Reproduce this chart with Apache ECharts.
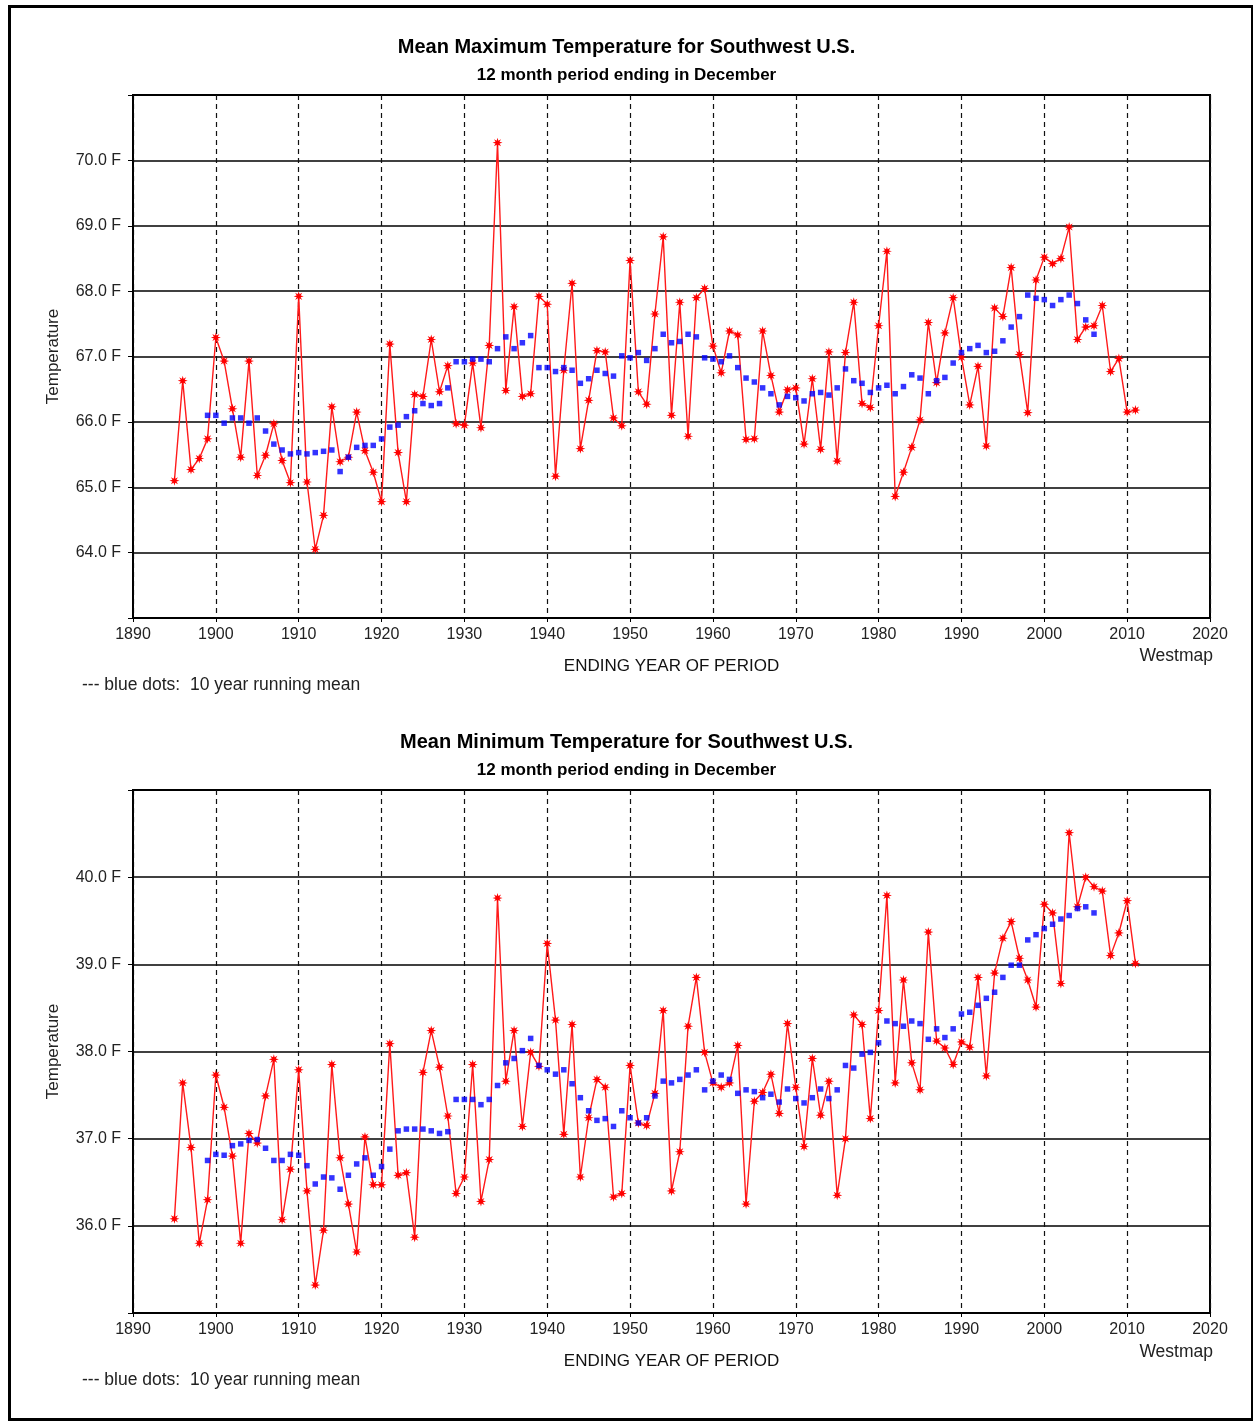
<!DOCTYPE html>
<html>
<head>
<meta charset="utf-8">
<script src="https://cdn.jsdelivr.net/npm/echarts@6/dist/echarts.min.js"></script>
<style>
  html, body { margin: 0; padding: 0; background: #fff; }
  #chart { width: 1253px; height: 1421px; }
</style>
</head>
<body>
<div id="chart"></div>
<script>
// red series start in 1895, running mean starts in 1899
const redStart = 1895;
const meanStart = 1899;

// mean maximum temperature, 1895-2011
const maxTemp = [
  65.10, 66.63, 65.27, 65.44, 65.74,
  67.29, 66.93, 66.20, 65.46, 66.93, 65.18, 65.49, 65.97, 65.41, 65.07,
  67.92, 65.08, 64.05, 64.57, 66.23, 65.39, 65.46, 66.15, 65.56, 65.23,
  64.78, 67.19, 65.53, 64.78, 66.42, 66.39, 67.26, 66.46, 66.86, 65.97,
  65.95, 66.90, 65.91, 67.17, 70.27, 66.48, 67.76, 66.39, 66.43, 67.92,
  67.80, 65.17, 66.79, 68.12, 65.59, 66.33, 67.09, 67.07, 66.06, 65.94,
  68.47, 66.46, 66.27, 67.65, 68.83, 66.10, 67.83, 65.78, 67.90, 68.04,
  67.16, 66.75, 67.39, 67.33, 65.73, 65.74, 67.39, 66.71, 66.15, 66.49,
  66.52, 65.66, 66.66, 65.58, 67.07, 65.40, 67.06, 67.83, 66.28, 66.22,
  67.47, 68.61, 64.86, 65.23, 65.61, 66.03, 67.52, 66.60, 67.36, 67.90,
  66.99, 66.26, 66.85, 65.63, 67.74, 67.61, 68.36, 67.03, 66.14, 68.17,
  68.52, 68.42, 68.50, 68.98, 67.26, 67.45, 67.47, 67.78, 66.77, 66.97,
  66.15, 66.18
];

// 10 year running mean of max, 1899-2006
const maxMean = [
  66.10,
  66.10, 65.98, 66.06, 66.06, 65.98, 66.06, 65.86, 65.66, 65.57, 65.51,
  65.53, 65.51, 65.53, 65.55, 65.57, 65.24, 65.46, 65.61, 65.64, 65.64,
  65.74, 65.92, 65.95, 66.08, 66.17, 66.28, 66.25, 66.28, 66.52, 66.92,
  66.92, 66.96, 66.96, 66.92, 67.12, 67.30, 67.12, 67.21, 67.32, 66.83,
  66.83, 66.77, 66.83, 66.79, 66.59, 66.66, 66.79, 66.74, 66.70, 67.01,
  66.98, 67.06, 66.94, 67.12, 67.34, 67.21, 67.23, 67.34, 67.30, 66.98,
  66.96, 66.92, 67.01, 66.83, 66.67, 66.61, 66.52, 66.43, 66.26, 66.39,
  66.37, 66.32, 66.43, 66.45, 66.41, 66.52, 66.81, 66.63, 66.59, 66.45,
  66.52, 66.56, 66.43, 66.54, 66.72, 66.67, 66.43, 66.63, 66.68, 66.90,
  67.06, 67.12, 67.17, 67.06, 67.08, 67.24, 67.45, 67.61, 67.94, 67.89,
  67.87, 67.78, 67.87, 67.94, 67.81, 67.56, 67.34
];

// mean minimum temperature, 1895-2011
const minTemp = [
  36.08, 37.64, 36.90, 35.80, 36.30,
  37.73, 37.36, 36.80, 35.80, 37.06, 36.95, 37.49, 37.91, 36.07, 36.65,
  37.79, 36.40, 35.32, 35.95, 37.85, 36.78, 36.25, 35.70, 37.02, 36.47,
  36.47, 38.09, 36.58, 36.61, 35.87, 37.76, 38.24, 37.82, 37.26, 36.37,
  36.56, 37.85, 36.28, 36.76, 39.76, 37.66, 38.24, 37.14, 37.99, 37.83,
  39.24, 38.36, 37.05, 38.31, 36.56, 37.24, 37.68, 37.59, 36.33, 36.37,
  37.84, 37.18, 37.15, 37.52, 38.47, 36.40, 36.85, 38.29, 38.85, 37.99,
  37.64, 37.59, 37.64, 38.07, 36.25, 37.43, 37.53, 37.74, 37.29, 38.32,
  37.59, 36.91, 37.92, 37.27, 37.66, 36.35, 37.00, 38.42, 38.31, 37.23,
  38.47, 39.79, 37.64, 38.82, 37.87, 37.56, 39.37, 38.12, 38.04, 37.85,
  38.11, 38.05, 38.85, 37.72, 38.90, 39.30, 39.49, 39.07, 38.82, 38.51,
  39.69, 39.59, 38.78, 40.51, 39.66, 40.00, 39.89, 39.84, 39.10, 39.36,
  39.73, 39.01
];

// 10 year running mean of min, 1899-2006
const minMean = [
  36.75,
  36.82, 36.81, 36.92, 36.94, 36.98, 36.99, 36.89, 36.75, 36.75, 36.82,
  36.81, 36.69, 36.48, 36.56, 36.55, 36.42, 36.58, 36.71, 36.78, 36.58,
  36.68, 36.88, 37.09, 37.11, 37.11, 37.11, 37.09, 37.06, 37.08, 37.45,
  37.45, 37.45, 37.39, 37.45, 37.61, 37.87, 37.92, 38.01, 38.15, 37.84,
  37.79, 37.74, 37.79, 37.63, 37.47, 37.32, 37.21, 37.23, 37.14, 37.32,
  37.24, 37.18, 37.24, 37.49, 37.66, 37.64, 37.68, 37.73, 37.79, 37.56,
  37.66, 37.73, 37.68, 37.52, 37.56, 37.54, 37.47, 37.51, 37.42, 37.57,
  37.46, 37.41, 37.47, 37.57, 37.46, 37.56, 37.84, 37.81, 37.97, 37.99,
  38.10, 38.35, 38.32, 38.29, 38.35, 38.32, 38.14, 38.26, 38.16, 38.26,
  38.43, 38.45, 38.53, 38.61, 38.68, 38.85, 38.99, 38.99, 39.28, 39.34,
  39.41, 39.46, 39.52, 39.56, 39.64, 39.66, 39.59
];

const titles = ['Mean Maximum Temperature for Southwest U.S.', 'Mean Minimum Temperature for Southwest U.S.'];
const subtitle = '12 month period ending in December';

const font = 'Liberation Sans, Arial, sans-serif';
// 8 point asterisk
const star = 'path://M10 0 L11.7 6 L17.07 2.93 L14 8.3 L20 10 L14 11.7 L17.07 17.07 L11.7 14 L10 20 L8.3 14 L2.93 17.07 L6 11.7 L0 10 L6 8.3 L2.93 2.93 L8.3 6 Z';

const pairs = (arr, start) => arr.map((v, i) => [start + i, v]);

const panelTop = [95, 790];
const plotH = 523;

function xAxis(gi) {
  return {
    type: 'value', gridIndex: gi, min: 1890, max: 2020, interval: 10,
    name: 'ENDING YEAR OF PERIOD', nameLocation: 'middle', nameGap: 40,
    nameTextStyle: { fontFamily: font, fontSize: 17, color: '#111' },
    axisLine: { show: true, lineStyle: { color: '#000', width: 1.5 } },
    axisTick: { show: true, length: 4, lineStyle: { color: '#000' } },
    axisLabel: { fontFamily: font, fontSize: 16, color: '#222', margin: 9, formatter: v => String(v) },
    splitLine: { show: true, lineStyle: { color: '#111', type: [5, 4], width: 1.2 } }
  };
}

function yAxis(gi, lo, hi) {
  return {
    type: 'value', gridIndex: gi, min: lo, max: hi, interval: 1,
    name: 'Temperature', nameLocation: 'middle', nameGap: 71, nameRotate: 90,
    nameTextStyle: { fontFamily: font, fontSize: 17, color: '#222' },
    axisLine: { show: true, lineStyle: { color: '#000', width: 1.5 } },
    axisTick: { show: true, length: 5, lineStyle: { color: '#000' } },
    axisLabel: {
      fontFamily: font, fontSize: 16, color: '#222', margin: 12,
      formatter: v => (v === lo || v === hi) ? '' : v.toFixed(1) + ' F'
    },
    splitLine: { show: true, lineStyle: { color: '#000', width: 1.5 } }
  };
}

function redSeries(gi, data) {
  return {
    type: 'line', xAxisIndex: gi, yAxisIndex: gi, data: pairs(data, redStart),
    symbol: star, symbolSize: 10, showSymbol: true, animation: false, z: 3,
    lineStyle: { color: '#ff1a1a', width: 1.4 },
    itemStyle: { color: '#ff0000' }
  };
}

function meanSeries(gi, data) {
  return {
    type: 'scatter', xAxisIndex: gi, yAxisIndex: gi, data: pairs(data, meanStart),
    symbol: 'rect', symbolSize: 5.5, animation: false, z: 4,
    itemStyle: { color: '#0000ff' }
  };
}

const text = (pos, s) => ({
  type: 'text', left: pos.left, right: pos.right, top: pos.top,
  style: { text: s, font: '17.5px ' + font, fill: '#222' }
});

const chart = echarts.init(document.getElementById('chart'), null, { renderer: 'canvas' });

chart.setOption({
  backgroundColor: '#fff',
  animation: false,
  title: [
    { text: titles[0], left: 'center', top: 32, textStyle: { fontFamily: font, fontSize: 20, fontWeight: 'bold', color: '#000' } },
    { text: subtitle, left: 'center', top: 62, textStyle: { fontFamily: font, fontSize: 17, fontWeight: 'bold', color: '#000' } },
    { text: titles[1], left: 'center', top: 727, textStyle: { fontFamily: font, fontSize: 20, fontWeight: 'bold', color: '#000' } },
    { text: subtitle, left: 'center', top: 757, textStyle: { fontFamily: font, fontSize: 17, fontWeight: 'bold', color: '#000' } }
  ],
  grid: [
    { left: 133, top: panelTop[0], width: 1077, height: plotH, show: true, borderColor: '#000', borderWidth: 2 },
    { left: 133, top: panelTop[1], width: 1077, height: plotH, show: true, borderColor: '#000', borderWidth: 2 }
  ],
  xAxis: [xAxis(0), xAxis(1)],
  yAxis: [yAxis(0, 63, 71), yAxis(1, 35, 41)],
  series: [
    redSeries(0, maxTemp), meanSeries(0, maxMean),
    redSeries(1, minTemp), meanSeries(1, minMean)
  ],
  graphic: [
    { type: 'rect', left: 7, top: 4, shape: { width: 1243, height: 1413 }, style: { fill: 'none', stroke: '#000', lineWidth: 3 }, silent: true },
    text({ right: 40, top: 647 }, 'Westmap'),
    text({ left: 82, top: 676 }, '--- blue dots:  10 year running mean'),
    text({ right: 40, top: 1343 }, 'Westmap'),
    text({ left: 82, top: 1371 }, '--- blue dots:  10 year running mean')
  ]
});
</script>
</body>
</html>
